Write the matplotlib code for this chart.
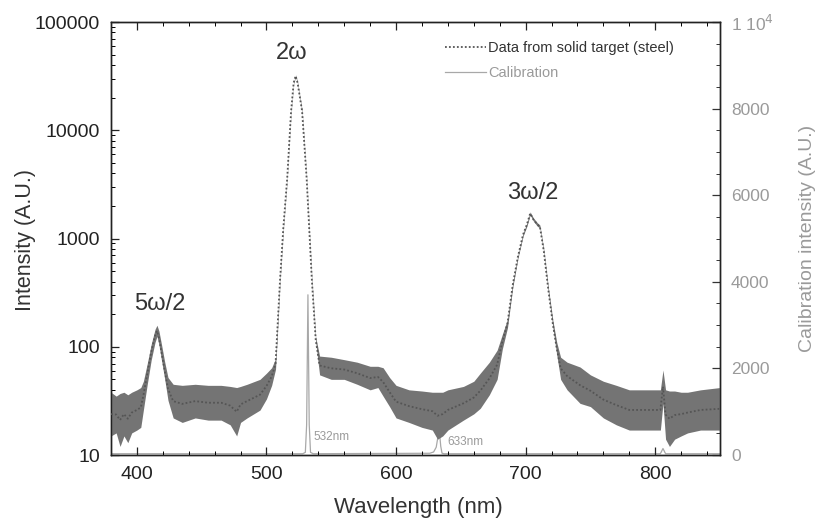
import numpy as np
import matplotlib
matplotlib.use("Agg")
import matplotlib.pyplot as plt
from matplotlib.ticker import LogLocator, FixedLocator, MultipleLocator, FuncFormatter, NullFormatter

plt.rcParams['font.family'] = ['Liberation Sans', 'DejaVu Sans']

# ---- Data ----
# Noisy spectrum from steel target: upper / lower envelope of the noise band (A.U., log scale)
wavelength = [380, 384, 387, 390, 393, 396, 400, 403, 405, 408, 411, 414, 415.5, 417, 419, 421.5, 424, 428,
              435, 445, 455, 465, 472, 477, 480, 485, 495, 500, 504, 507, 510.5, 513, 516, 519, 521, 522.5,
              524, 527.5, 531, 535, 538, 541, 550, 560, 570, 580, 586, 590, 595, 600, 610, 620,
              628, 632, 636, 640, 652, 660, 665, 672, 678, 682, 686, 690, 694, 698, 701, 703.5, 706, 709,
              711, 714, 717.5, 721, 724, 727, 732, 742, 750, 760, 770, 780, 790, 800, 804, 806,
              808, 811, 815, 820, 825, 835, 850]
upper = [38, 35, 37, 38, 36, 38, 40, 42, 48, 70, 105, 145, 158, 140, 105, 72, 52, 45,
         44, 45, 44, 44, 43, 42, 43, 45, 50, 57, 64, 78, 440, 1300, 3700, 15500, 28000, 32500,
         28000, 15500, 3700, 440, 123, 82, 80, 76, 72, 66, 66, 64, 52, 44, 40, 39,
         38, 38, 38, 40, 43, 48, 57, 72, 93, 130, 180, 390, 700, 1120, 1400, 1760, 1550, 1400,
         1330, 800, 355, 176, 110, 80, 72, 65, 55, 48, 44, 40, 40, 40, 40, 61,
         40, 39, 39, 38, 38, 40, 42]
lower = [15, 16, 12, 15, 13, 16, 17, 18, 26, 45, 75, 110, 125, 105, 75, 50, 32, 22,
         20, 22, 21, 21, 19, 15, 20, 22, 26, 33, 44, 62, 400, 1200, 3500, 14500, 27000, 31000,
         27000, 14500, 3500, 400, 110, 55, 50, 50, 45, 40, 42, 35, 28, 22, 20, 18,
         17, 14, 15, 17, 21, 24, 27, 36, 50, 95, 150, 350, 650, 1050, 1300, 1650, 1450, 1300,
         1250, 740, 320, 150, 85, 50, 40, 30, 28, 22, 19, 17, 17, 17, 17, 30,
         14, 12, 14, 15, 16, 17, 17]

# Calibration lamp spectrum (right axis, A.U.)
cal_wavelength = [380, 528, 530, 531, 532, 533, 534, 536, 626, 629, 631, 632.5, 633.5, 634.5, 635.5,
                  637, 804, 806, 808, 850]
cal_intensity = [30, 30, 60, 700, 3700, 700, 60, 30, 40, 70, 180, 450, 530, 200, 40,
                 30, 30, 150, 30, 30]

annotations = [("2ω", 519.8, 52000), ("3ω/2", 705.5, 2640), ("5ω/2", 417.8, 248)]
line_labels = [("532nm", 536.5, 14.7), ("633nm", 639.5, 13.3)]

# ---- Figure ----
fig = plt.figure(figsize=(8.19, 5.19), dpi=100)
ax = fig.add_axes([0.1355, 0.1233, 0.7436, 0.8343])
ax2 = ax.twinx()
ax.set_zorder(ax2.get_zorder() + 1)
ax.patch.set_visible(False)

wl = np.array(wavelength)
up = np.array(upper, float)
lo = np.array(lower, float)
ax.fill_between(wl, lo, up, color='#747474', lw=0, zorder=2)
ax.plot(wl, np.sqrt(up * lo), ls=(0, (1, 1.2)), color='#555555', lw=1.3, zorder=3,
        label='Data from solid target (steel)')

ax2.plot(cal_wavelength, cal_intensity, color='#a8a8a8', lw=0.9, zorder=1)
ax.plot([], [], color='#a8a8a8', lw=0.9, label='Calibration')

ax.set_yscale('log')
ax.set_xlim(380, 850)
ax.set_ylim(10, 100000)
ax2.set_ylim(0, 10000)

ax.xaxis.set_major_locator(FixedLocator([400, 500, 600, 700, 800]))
ax.xaxis.set_minor_locator(MultipleLocator(20))
ax.yaxis.set_major_locator(LogLocator(base=10, numticks=10))
ax.yaxis.set_minor_locator(LogLocator(base=10, subs=np.arange(2, 10), numticks=20))
ax.yaxis.set_major_formatter(FuncFormatter(lambda v, p: f"{int(round(v))}"))
ax.yaxis.set_minor_formatter(NullFormatter())

ax2.yaxis.set_major_locator(FixedLocator([0, 2000, 4000, 6000, 8000, 10000]))
ax2.yaxis.set_minor_locator(MultipleLocator(500))
ax2.yaxis.set_major_formatter(FuncFormatter(lambda v, p: "1 10$^4$" if v >= 10000 else f"{int(v)}"))

ax.tick_params(axis='both', which='major', direction='in', length=6, width=0.9,
               labelsize=14, colors='#222222', top=True)
ax.tick_params(axis='x', which='major', pad=8)
ax.tick_params(axis='y', which='major', pad=8)
ax.tick_params(axis='both', which='minor', direction='in', length=3, width=0.7, top=True)
ax.tick_params(axis='y', which='both', right=False)
ax2.tick_params(axis='y', which='major', direction='in', length=6, width=0.9,
                labelsize=12.5, labelcolor='#9a9a9a', color='#333333', pad=8)
ax2.tick_params(axis='y', which='minor', direction='in', length=3, width=0.7, color='#333333')

for sp in list(ax.spines.values()) + list(ax2.spines.values()):
    sp.set_linewidth(1.0)
    sp.set_color('#222222')

ax.set_xlabel("Wavelength (nm)", fontsize=16, color='#333333')
ax.xaxis.set_label_coords(0.505, -0.121)
ax.xaxis.label.set_va('center')
ax.set_ylabel("Intensity (A.U.)", fontsize=15.5, color='#333333')
ax.yaxis.set_label_coords(-0.141, 0.497)
ax.yaxis.label.set_va('center')
ax2.set_ylabel("Calibration intensity (A.U.)", fontsize=14, color='#9a9a9a')
ax2.yaxis.set_label_coords(1.143, 0.5)
ax2.yaxis.label.set_va('center')

for txt, x, y in annotations:
    ax.text(x, y, txt, fontsize=17, ha='center', va='center', color='#333333', zorder=5)
for txt, x, y in line_labels:
    ax.text(x, y, txt, fontsize=8.5, ha='left', va='center', color='#9a9a9a', zorder=5)

leg = ax.legend(loc='upper left', bbox_to_anchor=(0.548, 0.956), frameon=False,
                fontsize=10.5, handlelength=2.8, handletextpad=0.2, labelspacing=0.75,
                borderpad=0, borderaxespad=0)
for t, c in zip(leg.get_texts(), ['#333333', '#9a9a9a']):
    t.set_color(c)

fig.savefig("out.png", dpi=100)
